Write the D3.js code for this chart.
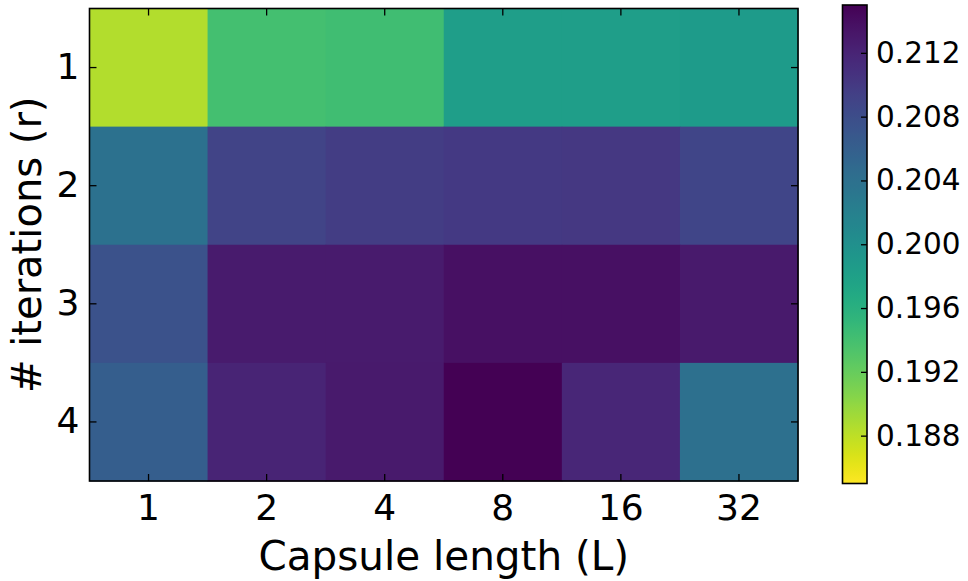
<!DOCTYPE html>
<html>
<head>
<meta charset="utf-8">
<script src="https://cdn.jsdelivr.net/npm/d3@7"></script>
<style>
  body { margin: 0; background: #fff; }
  svg, svg text { font-family: "DejaVu Sans", sans-serif; }
</style>
</head>
<body>
<div id="container"></div>
<script>
let width = 968
let height = 581

// data
const lengths = ["1", "2", "4", "8", "16", "32"]
const iterations = ["1", "2", "3", "4"]
const row1 = [0.1885, 0.1940, 0.1942, 0.1983, 0.1983, 0.1986]
const row2 = [0.2038, 0.2090, 0.2097, 0.2100, 0.2101, 0.2088]
const row3 = [0.2075, 0.2128, 0.2128, 0.2138, 0.2138, 0.2130]
const row4 = [0.2062, 0.2120, 0.2130, 0.2150, 0.2118, 0.2040]
const rows = [row1, row2, row3, row4]
const colorDomain = [0.1850, 0.2150]
const cbTicks = [0.188, 0.192, 0.196, 0.200, 0.204, 0.208, 0.212]

margin = ({ top: 8.5, right: 170, bottom: 100, left: 89.5 })
const plotW = 708.5
const plotH = 472.5
const font = "DejaVu Sans"

let data = []
rows.forEach((r, i) => r.forEach((v, j) => data.push({ r: iterations[i], L: lengths[j], value: v })))

let x = d3.scaleBand()
    .domain(lengths)
    .range([margin.left, margin.left + plotW])

let y = d3.scaleBand()
    .domain(iterations)
    .range([margin.top, margin.top + plotH])

// reversed viridis: low = yellow, high = purple
let color = d3.scaleSequential(t => d3.interpolateViridis(1 - t))
    .domain(colorDomain)

let svg = d3.select("#container")
    .append("svg")
    .attr("width", width)
    .attr("height", height)
    .attr("font-family", font)

// cells
svg.append("g")
    .selectAll("rect")
    .data(data)
    .join("rect")
    .attr("x", d => x(d.L))
    .attr("y", d => y(d.r))
    .attr("width", x.bandwidth() + 0.5)
    .attr("height", y.bandwidth() + 0.5)
    .attr("fill", d => color(d.value))

const styleTicks = (g, size) => {
    g.attr("font-family", font)
    g.select(".domain").remove()
    g.selectAll(".tick line").attr("stroke", "#000").attr("stroke-width", 1.3)
    g.selectAll(".tick text").attr("font-size", size).attr("fill", "#000").attr("font-family", font)
}

// axes, ticks inside on every side
let xAxis = g => g
    .attr("transform", `translate(0,${margin.top + plotH})`)
    .call(d3.axisBottom(x).tickSize(-7).tickPadding(13))
    .call(styleTicks, 36)

let xTop = g => g
    .attr("transform", `translate(0,${margin.top})`)
    .call(d3.axisTop(x).tickSize(-7).tickFormat(""))
    .call(styleTicks, 36)

let yAxis = g => g
    .attr("transform", `translate(${margin.left},0)`)
    .call(d3.axisLeft(y).tickSize(-7).tickPadding(10))
    .call(styleTicks, 36)

let yRight = g => g
    .attr("transform", `translate(${margin.left + plotW},0)`)
    .call(d3.axisRight(y).tickSize(-7).tickFormat(""))
    .call(styleTicks, 36)

svg.append("g").call(xAxis)
svg.append("g").call(xTop)
svg.append("g").call(yAxis)
svg.append("g").call(yRight)

// frame
svg.append("rect")
    .attr("x", margin.left)
    .attr("y", margin.top)
    .attr("width", plotW)
    .attr("height", plotH)
    .attr("fill", "none")
    .attr("stroke", "#000")
    .attr("stroke-width", 1.6)

// axis labels
svg.append("text")
    .attr("x", margin.left + plotW / 2)
    .attr("y", 570)
    .attr("text-anchor", "middle")
    .attr("font-size", 40.5)
    .text("Capsule length (L)")

svg.append("text")
    .attr("transform", `translate(41,${margin.top + plotH / 2}) rotate(-90)`)
    .attr("text-anchor", "middle")
    .attr("font-size", 40)
    .text("# iterations (r)")

// colorbar
const cb = { x: 842.5, w: 24.5, top: 5, bottom: 483.5 }
let cy = d3.scaleLinear()
    .domain(colorDomain)
    .range([cb.bottom, cb.top])

const grad = svg.append("defs").append("linearGradient")
    .attr("id", "cbgrad")
    .attr("x1", 0).attr("y1", 1).attr("x2", 0).attr("y2", 0)
grad.selectAll("stop")
    .data(d3.range(0, 1.0001, 0.02))
    .join("stop")
    .attr("offset", t => t)
    .attr("stop-color", t => color(colorDomain[0] + t * (colorDomain[1] - colorDomain[0])))

svg.append("rect")
    .attr("x", cb.x)
    .attr("y", cb.top)
    .attr("width", cb.w)
    .attr("height", cb.bottom - cb.top)
    .attr("fill", "url(#cbgrad)")

let cbAxis = g => g
    .attr("transform", `translate(${cb.x + cb.w},0)`)
    .call(d3.axisRight(cy).tickValues(cbTicks).tickFormat(d3.format(".3f")).tickSize(0).tickPadding(9))
    .call(styleTicks, 29.5)
    .call(g => g.selectAll(".tick").append("line")
        .attr("x1", -6).attr("x2", 0)
        .attr("stroke", "#000").attr("stroke-width", 1.3))

svg.append("g").call(cbAxis)

svg.append("rect")
    .attr("x", cb.x)
    .attr("y", cb.top)
    .attr("width", cb.w)
    .attr("height", cb.bottom - cb.top)
    .attr("fill", "none")
    .attr("stroke", "#000")
    .attr("stroke-width", 1.6)
</script>
</body>
</html>
